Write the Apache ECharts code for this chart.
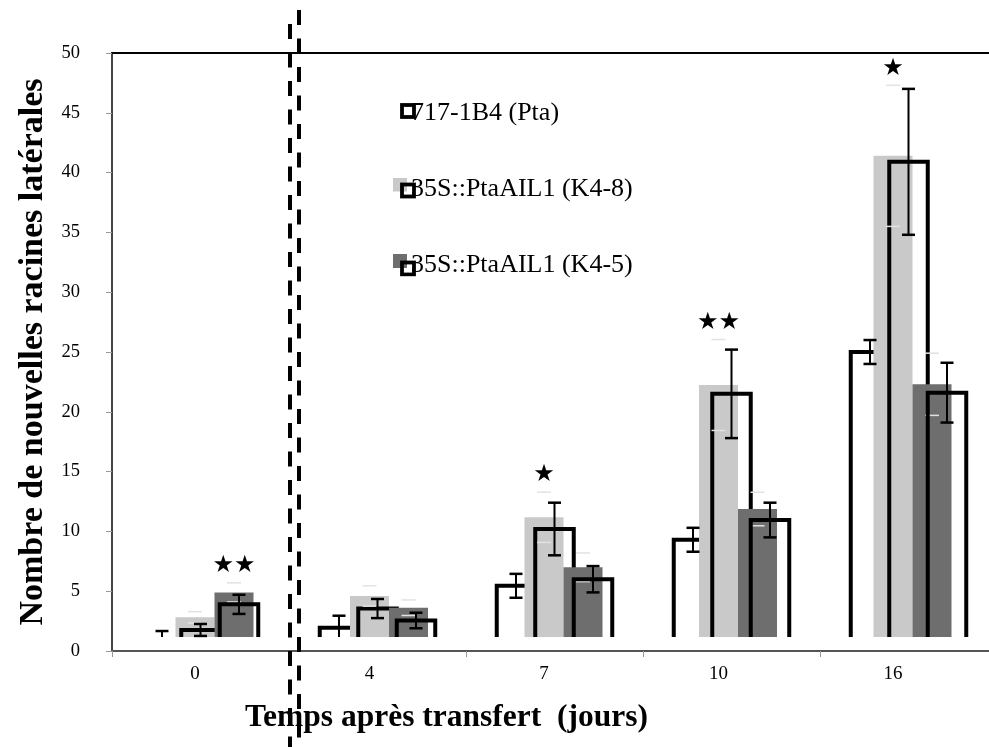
<!DOCTYPE html>
<html>
<head>
<meta charset="utf-8">
<script src="https://cdn.jsdelivr.net/npm/echarts@6/dist/echarts.min.js"></script>
<style>html,body{margin:0;padding:0;background:#fff;overflow:hidden}#c{width:1000px;height:747px}</style>
</head>
<body>
<div id="c"></div>
<script>
// ---------------- data ----------------
const categories = ['0', '4', '7', '10', '16'];
const seriesNames = ['717-1B4 (Pta)', '35S::PtaAIL1 (K4-8)', '35S::PtaAIL1 (K4-5)'];
// black-outlined bars (means and error half-widths)
const ptaValues = [0.8, 1.95, 5.45, 9.3, 25.0];
const ptaErrors = [0.87, 1.0, 1.0, 1.0, 1.0];
const k48Values = [1.76, 3.55, 10.2, 21.5, 40.9];
const k48Errors = [0.5, 0.8, 2.2, 3.7, 6.1];
const k45Values = [3.9, 2.55, 6.0, 10.95, 21.6];
const k45Errors = [0.8, 0.65, 1.1, 1.45, 2.5];
// grey filled bars
const k48FillValues = [2.82, 4.6, 11.18, 22.24, 41.4];
const k48FillErrors = [0.47, 0.85, 2.1, 3.8, 5.9];
const k45FillValues = [4.9, 3.62, 7.0, 11.87, 22.3];
const k45FillErrors = [0.8, 0.65, 1.2, 1.4, 2.6];
// significance stars
const k48Stars = ['', '', '★', '★★', '★'];
const k45Stars = ['★★', '', '', '', ''];
const yTitle = 'Nombre de nouvelles racines latérales';
const xTitle = 'Temps après transfert  (jours)';

// ---------------- layout / style ----------------
const Y_MAX = 50, Y_STEP = 5;
const PLOT_TOP = 53, AXIS_Y = 651, BAR_BASE_Y = 637;
const pxPerUnit = (AXIS_Y - PLOT_TOP) / Y_MAX;
const BAR_MIN = Y_MAX - (BAR_BASE_Y - PLOT_TOP) / pxPerUnit;
const SERIF = 'Liberation Serif';
const LIGHT = '#c9c9c9', DARK = '#6e6e6e';
const OUTLINE_W = 38.5, FILL_W = 39;

function svgIcon(inner) {
  return 'image://data:image/svg+xml;charset=utf-8,' + encodeURIComponent(
    '<svg xmlns="http://www.w3.org/2000/svg" width="23" height="23" viewBox="0 0 23 23">' + inner + '</svg>');
}
const outlineSq = (y) => '<rect x="9" y="' + y + '" width="12" height="12" fill="none" stroke="#000" stroke-width="3.8"/>';
const icons = [
  svgIcon(outlineSq(3.5)),
  svgIcon('<rect x="0" y="0.5" width="14" height="13.5" fill="' + LIGHT + '"/>' + outlineSq(7)),
  svgIcon('<rect x="0" y="0.5" width="14" height="14" fill="' + DARK + '"/>' + outlineSq(9))
];

function outlineRenderer(slot) {
  return function (params, api) {
    const i = api.value(0), v = api.value(1);
    if (!(v > BAR_MIN)) return { type: 'group', children: [] };
    const p = api.coord([i, v]);
    const base = api.coord([i, BAR_MIN])[1];
    const cx = p[0] + slot * OUTLINE_W;
    const x0 = cx - OUTLINE_W / 2, x1 = cx + OUTLINE_W / 2;
    return {
      type: 'polyline', silent: true,
      shape: { points: [[x0, base], [x0, p[1]], [x1, p[1]], [x1, base]] },
      style: { stroke: '#000', lineWidth: 4, fill: null, lineJoin: 'miter' }
    };
  };
}

const outlineSets = [[ptaValues, ptaErrors], [k48Values, k48Errors], [k45Values, k45Errors]];
const errorRows = [];
outlineSets.forEach((set, s) => set[0].forEach((v, i) => errorRows.push([i, v, set[1][i], s - 1])));

const fillSets = [[k48FillValues, k48FillErrors, k48Stars], [k45FillValues, k45FillErrors, k45Stars]];
const fillRows = [];
fillSets.forEach((set, s) => set[0].forEach((v, i) => fillRows.push([i, v, set[1][i], s])));

function errorRenderer(params, api) {
  const i = api.value(0), v = api.value(1), e = api.value(2), slot = api.value(3);
  const top = api.coord([i, v + e]);
  const base = api.coord([i, BAR_MIN])[1];
  const bot = Math.min(api.coord([i, v - e])[1], base);
  const cx = top[0] + slot * OUTLINE_W;
  const children = [];
  if (top[1] < base) {
    children.push({ type: 'line', shape: { x1: cx, y1: top[1], x2: cx, y2: bot }, style: { stroke: '#000', lineWidth: 2 } });
    children.push({ type: 'line', shape: { x1: cx - 6.5, y1: top[1], x2: cx + 6.5, y2: top[1] }, style: { stroke: '#000', lineWidth: 2.5 } });
    if (api.coord([i, v - e])[1] < base - 1)
      children.push({ type: 'line', shape: { x1: cx - 6.5, y1: bot, x2: cx + 6.5, y2: bot }, style: { stroke: '#000', lineWidth: 2.5 } });
  }
  return { type: 'group', silent: true, children: children };
}

function fillCapRenderer(params, api) {
  const i = api.value(0), v = api.value(1), e = api.value(2), s = api.value(3);
  const top = api.coord([i, v + e]);
  const low = api.coord([i, v - e]);
  const cx = top[0] + s * FILL_W;
  const children = [
    { type: 'line', shape: { x1: cx - 7, y1: top[1], x2: cx + 7, y2: top[1] }, style: { stroke: '#e2e2e2', lineWidth: 1.5 } },
    { type: 'line', shape: { x1: cx - 7, y1: low[1], x2: cx + 7, y2: low[1] }, style: { stroke: '#e2e2e2', lineWidth: 1.5 } }
  ];
  const star = fillSets[s][2][i];
  if (star) {
    children.push({ type: 'text', x: cx, y: top[1] - 17,
      style: { text: star, font: '24px "DejaVu Sans"', fill: '#000', align: 'center', verticalAlign: 'middle' } });
  }
  return { type: 'group', silent: true, children: children };
}

const option = {
  animation: false,
  backgroundColor: '#fff',
  title: {
    text: xTitle, left: 245, top: 702, padding: 0,
    textStyle: { fontFamily: SERIF, fontWeight: 'bold', fontSize: 31.5, color: '#000' }
  },
  legend: {
    orient: 'vertical', left: 393, top: 100, itemGap: 50, padding: 0,
    itemWidth: 23, itemHeight: 23, selectedMode: false,
    textStyle: { fontFamily: SERIF, fontSize: 26, color: '#000', lineHeight: 26, padding: [0, 0, 0, -10] },
    data: seriesNames.map((n, k) => ({ name: n, icon: icons[k] }))
  },
  grid: [
    { left: 112, top: PLOT_TOP, width: 885, height: AXIS_Y - PLOT_TOP },
    { left: 112, top: PLOT_TOP, width: 885, height: BAR_BASE_Y - PLOT_TOP },
    { left: 107.75, top: PLOT_TOP, width: 872.5, height: BAR_BASE_Y - PLOT_TOP }
  ],
  xAxis: [
    { gridIndex: 0, type: 'category', data: categories, position: 'bottom',
      axisLine: { lineStyle: { color: '#555', width: 2 } },
      axisTick: { show: true, length: 6, lineStyle: { color: '#999' } },
      axisLabel: { show: false } },
    { gridIndex: 0, type: 'category', data: categories, position: 'top',
      axisLine: { lineStyle: { color: '#000', width: 2 } }, axisTick: { show: false }, axisLabel: { show: false } },
    { gridIndex: 1, type: 'category', data: categories, show: false },
    { gridIndex: 2, type: 'category', data: categories,
      axisLine: { show: false }, axisTick: { show: false },
      axisLabel: { margin: 28, fontFamily: SERIF, fontSize: 19, color: '#000' } }
  ],
  yAxis: [
    { gridIndex: 0, type: 'value', min: 0, max: Y_MAX, interval: Y_STEP,
      axisLine: { show: true, lineStyle: { color: '#444', width: 2 } },
      axisTick: { show: true, length: 6, lineStyle: { color: '#999' } },
      splitLine: { show: false },
      axisLabel: { margin: 32, fontFamily: SERIF, fontSize: 18.5, color: '#000' },
      name: yTitle, nameLocation: 'middle', nameGap: 62,
      nameTextStyle: { fontFamily: SERIF, fontWeight: 'bold', fontSize: 34, color: '#000' } },
    { gridIndex: 1, type: 'value', min: BAR_MIN, max: Y_MAX, show: false, splitLine: { show: false } },
    { gridIndex: 2, type: 'value', min: BAR_MIN, max: Y_MAX, show: false, splitLine: { show: false } }
  ],
  series: [
    { name: seriesNames[0], type: 'bar', z: 1, xAxisIndex: 3, yAxisIndex: 2, data: ptaValues,
      barWidth: FILL_W, barGap: '0%', itemStyle: { color: '#ffffff' }, silent: true },
    { name: seriesNames[0], type: 'custom', z: 2, xAxisIndex: 2, yAxisIndex: 1,
      data: ptaValues.map((v, i) => [i, v]), renderItem: outlineRenderer(-1) },
    { name: seriesNames[1], type: 'bar', z: 3, xAxisIndex: 3, yAxisIndex: 2, data: k48FillValues,
      barWidth: FILL_W, barGap: '0%', itemStyle: { color: LIGHT }, silent: true },
    { name: seriesNames[1], type: 'custom', z: 4, xAxisIndex: 2, yAxisIndex: 1,
      data: k48Values.map((v, i) => [i, v]), renderItem: outlineRenderer(0) },
    { name: seriesNames[2], type: 'bar', z: 5, xAxisIndex: 3, yAxisIndex: 2, data: k45FillValues,
      barWidth: FILL_W, barGap: '0%', itemStyle: { color: DARK }, silent: true },
    { name: 'fill error caps', type: 'custom', z: 6, xAxisIndex: 3, yAxisIndex: 2,
      data: fillRows, renderItem: fillCapRenderer },
    { name: seriesNames[2], type: 'custom', z: 7, xAxisIndex: 2, yAxisIndex: 1,
      data: k45Values.map((v, i) => [i, v]), renderItem: outlineRenderer(1) },
    { name: 'error bars', type: 'custom', z: 8, xAxisIndex: 2, yAxisIndex: 1,
      data: errorRows, renderItem: errorRenderer }
  ],
  graphic: [
    { type: 'line', z: 100, silent: true, shape: { x1: 299, y1: 10, x2: 299, y2: 747 },
      style: { stroke: '#000', lineWidth: 4, lineDash: [15, 13.5] } },
    { type: 'line', z: 100, silent: true, shape: { x1: 290, y1: 24, x2: 290, y2: 747 },
      style: { stroke: '#000', lineWidth: 4, lineDash: [15, 13.5] } }
  ]
};
const chart = echarts.init(document.getElementById('c'), null, { renderer: 'canvas' });
chart.setOption(option);
</script>
</body>
</html>
